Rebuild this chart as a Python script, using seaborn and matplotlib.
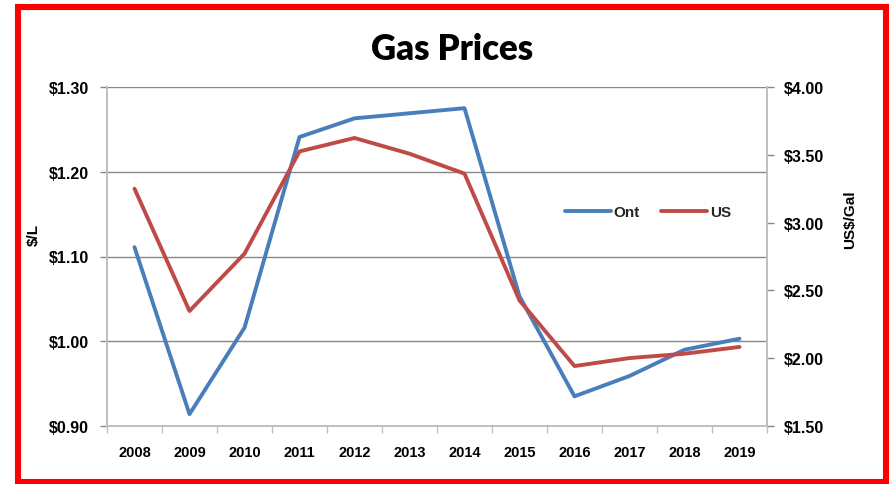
import pandas as pd
import matplotlib.pyplot as plt
import matplotlib.ticker as mticker
from matplotlib.patches import Rectangle
import seaborn as sns

sns.set_theme(style="white")
plt.rcParams['font.family'] = ['Liberation Sans', 'DejaVu Sans']

years = ["2008", "2009", "2010", "2011", "2012", "2013",
         "2014", "2015", "2016", "2017", "2018", "2019"]
ont = [1.111, 0.914, 1.016, 1.241, 1.263, 1.269,
       1.275, 1.053, 0.935, 0.959, 0.990, 1.003]
us = [3.25, 2.348, 2.771, 3.525, 3.624, 3.508,
      3.361, 2.426, 1.942, 2.001, 2.033, 2.083]

df = pd.DataFrame({"Year": years, "Ont": ont, "US": us})
df["pos"] = range(len(years))

blue = "#4A7EBB"
red = "#BE4B48"
grid_c = "#878787"
spine_c = "#BFBFBF"

fig = plt.figure(figsize=(8.91, 4.85), dpi=100)
ax = fig.add_axes([107 / 891, 1 - 427 / 485, 660 / 891, 339 / 485])
ax2 = ax.twinx()

sns.lineplot(data=df, x="pos", y="Ont", ax=ax, color=blue, linewidth=2.8,
             label="Ont", legend=False)
sns.lineplot(data=df, x="pos", y="US", ax=ax2, color=red, linewidth=2.8,
             label="US", legend=False)

ax.set_xlim(-0.5, len(years) - 0.5)
ax.set_ylim(0.90, 1.30)
ax2.set_ylim(1.50, 4.00)

ax.set_yticks([0.90, 1.00, 1.10, 1.20, 1.30])
ax2.set_yticks([1.50, 2.00, 2.50, 3.00, 3.50, 4.00])
fmt = mticker.StrMethodFormatter("${x:.2f}")
ax.yaxis.set_major_formatter(fmt)
ax2.yaxis.set_major_formatter(fmt)

ax.set_xticks(df["pos"])
ax.set_xticklabels(years)
ax.set_xticks([i - 0.5 for i in range(len(years) + 1)], minor=True)
ax.tick_params(axis="x", which="major", length=0, pad=14)
ax.tick_params(axis="x", which="minor", length=5, width=1, color=spine_c,
               direction="out", bottom=True)

ax.yaxis.grid(True, color=grid_c, linewidth=1)
ax.xaxis.grid(False)
ax2.grid(False)

ax.tick_params(axis="y", length=5, width=1, color=grid_c, direction="out",
               left=True, pad=8)
ax2.tick_params(axis="y", length=5, width=1, color=grid_c, direction="out",
                right=True, pad=7)

for a in (ax, ax2):
    for lab in a.get_yticklabels():
        lab.set_fontweight("bold")
        lab.set_fontsize(11.5)
        lab.set_color("black")
    for s in a.spines.values():
        s.set_color(spine_c)
        s.set_linewidth(1.2)
    a.spines["top"].set_visible(False)
for lab in ax.get_xticklabels():
    lab.set_fontweight("bold")
    lab.set_fontsize(10.5)
    lab.set_color("black")

ax.set_xlabel("")
ax.set_ylabel("$/L", fontsize=11, fontweight="bold", color="black")
ax.yaxis.set_label_coords(-0.100, 0.566)
ax2.set_ylabel("US$/Gal", fontsize=11, fontweight="bold", color="black",
               rotation=90)
ax2.yaxis.set_label_coords(1.116, 0.611)

fig.text(0.507, 1 - 50 / 485, "Gas Prices", ha="center", va="center",
         fontsize=25, fontweight="heavy", family=["Lato", "DejaVu Sans"],
         color="black")

h1, l1 = ax.get_legend_handles_labels()
h2, l2 = ax2.get_legend_handles_labels()
leg = fig.legend(h1 + h2, l1 + l2, loc="center", ncol=2, frameon=False,
                 bbox_to_anchor=(648 / 891, 1 - 213 / 485),
                 handlelength=3.0, handletextpad=0.2, columnspacing=1.4,
                 prop={"weight": "bold", "size": 11})

fig.patches.append(Rectangle((18 / 891, 2.5 / 485), 867.5 / 891, 474.5 / 485,
                             transform=fig.transFigure, fill=False,
                             edgecolor="#FF0000", linewidth=4.4))

fig.savefig("out.png", dpi=100)
